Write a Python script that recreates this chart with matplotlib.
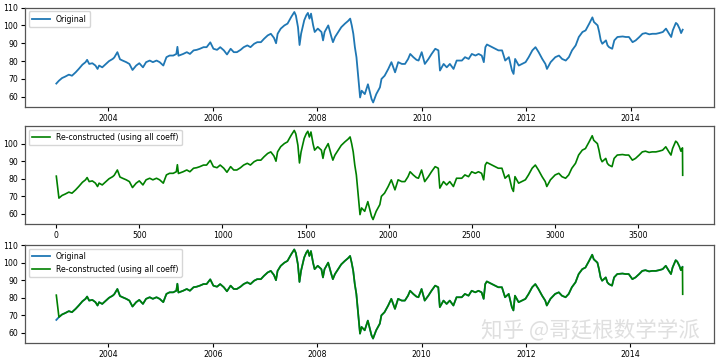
import numpy as np
import pandas as pd
import matplotlib
matplotlib.use("Agg")
import matplotlib.pyplot as plt

# sample times (decimal years) and values
years = [2003.00, 2003.05, 2003.11, 2003.17, 2003.24, 2003.30, 2003.37, 2003.43, 2003.50, 2003.56,
         2003.59, 2003.63, 2003.69, 2003.75, 2003.79, 2003.82, 2003.88, 2003.95, 2004.01, 2004.08,
         2004.11, 2004.17, 2004.22, 2004.27, 2004.34, 2004.40, 2004.46, 2004.53, 2004.59, 2004.66,
         2004.72, 2004.79, 2004.85, 2004.92, 2004.98, 2005.05, 2005.11, 2005.17, 2005.24, 2005.30,
         2005.32, 2005.34, 2005.43, 2005.50, 2005.56, 2005.63, 2005.69, 2005.75, 2005.82, 2005.88,
         2005.95, 2006.01, 2006.08, 2006.14, 2006.21, 2006.27, 2006.34, 2006.40, 2006.46, 2006.53,
         2006.59, 2006.66, 2006.72, 2006.79, 2006.85, 2006.92, 2006.98, 2007.05, 2007.11, 2007.17,
         2007.21, 2007.24, 2007.30, 2007.37, 2007.43, 2007.50, 2007.56, 2007.59, 2007.63, 2007.66,
         2007.69, 2007.75, 2007.79, 2007.82, 2007.85, 2007.88, 2007.92, 2007.95, 2008.01, 2008.08,
         2008.11, 2008.14, 2008.21, 2008.27, 2008.30, 2008.34, 2008.40, 2008.46, 2008.53, 2008.59,
         2008.63, 2008.66, 2008.69, 2008.72, 2008.75, 2008.79, 2008.82, 2008.85, 2008.91, 2008.97,
         2009.01, 2009.04, 2009.07, 2009.13, 2009.20, 2009.23, 2009.29, 2009.36, 2009.42, 2009.49,
         2009.55, 2009.62, 2009.68, 2009.74, 2009.78, 2009.84, 2009.90, 2009.94, 2010.00, 2010.06,
         2010.13, 2010.19, 2010.26, 2010.32, 2010.35, 2010.42, 2010.48, 2010.54, 2010.61, 2010.67,
         2010.77, 2010.83, 2010.90, 2010.96, 2011.03, 2011.09, 2011.15, 2011.19, 2011.22, 2011.25,
         2011.35, 2011.41, 2011.47, 2011.54, 2011.60, 2011.67, 2011.73, 2011.76, 2011.79, 2011.86,
         2011.92, 2011.99, 2012.05, 2012.12, 2012.18, 2012.24, 2012.31, 2012.37, 2012.40, 2012.47,
         2012.56, 2012.63, 2012.69, 2012.76, 2012.82, 2012.88, 2012.95, 2013.01, 2013.08, 2013.14,
         2013.21, 2013.27, 2013.30, 2013.37, 2013.40, 2013.43, 2013.46, 2013.53, 2013.56, 2013.59,
         2013.65, 2013.69, 2013.75, 2013.85, 2013.91, 2013.97, 2014.04, 2014.10, 2014.17, 2014.23,
         2014.29, 2014.36, 2014.42, 2014.49, 2014.55, 2014.62, 2014.68, 2014.74, 2014.78, 2014.81,
         2014.87, 2014.90, 2014.94, 2014.97, 2015.00]

original = [67.4, 69.0, 70.5, 71.3, 72.4, 71.8, 73.7, 75.6, 78.0, 79.4,
            80.7, 78.4, 78.8, 77.5, 75.6, 77.5, 76.5, 78.4, 80.0, 81.2,
            82.0, 85.0, 81.0, 80.3, 79.4, 78.4, 75.0, 77.5, 78.8, 76.5,
            79.4, 80.3, 79.4, 80.3, 79.4, 77.5, 82.2, 83.1, 83.1, 84.0,
            88.0, 83.0, 84.0, 85.0, 84.0, 86.0, 86.3, 86.9, 87.8, 87.8,
            90.5, 86.9, 86.3, 87.8, 86.0, 83.7, 86.9, 85.0, 85.0, 86.3,
            87.8, 88.8, 87.8, 89.7, 90.6, 90.6, 92.5, 94.4, 95.3, 93.0,
            90.0, 95.3, 98.2, 100.0, 101.0, 104.7, 107.5, 105.5, 99.0, 89.0,
            95.3, 102.9, 105.7, 107.0, 103.8, 106.6, 100.0, 96.3, 98.2, 96.3,
            91.6, 96.3, 100.0, 93.5, 90.6, 93.5, 96.3, 99.0, 101.0, 102.5,
            103.8, 100.0, 95.3, 87.8, 82.2, 69.0, 59.6, 63.4, 61.5, 67.0,
            62.4, 58.7, 56.8, 61.5, 65.3, 70.0, 71.8, 75.6, 79.4, 73.7,
            79.4, 78.4, 78.4, 81.2, 84.0, 82.2, 80.7, 80.3, 85.0, 78.4,
            81.2, 84.0, 86.9, 86.0, 74.7, 78.4, 76.5, 78.4, 75.6, 80.3,
            80.3, 82.2, 81.2, 84.0, 83.1, 84.0, 83.1, 79.4, 87.8, 89.3,
            87.8, 86.9, 86.0, 86.0, 80.3, 82.2, 74.7, 72.8, 81.2, 77.5,
            78.4, 79.4, 82.2, 86.0, 87.8, 85.0, 81.2, 78.4, 75.6, 79.4,
            82.2, 83.1, 81.2, 80.3, 82.2, 86.0, 88.8, 93.5, 96.3, 97.2,
            101.0, 104.5, 101.9, 100.0, 96.3, 91.6, 89.7, 91.6, 88.8, 87.8,
            86.9, 91.6, 93.5, 93.8, 93.5, 93.5, 90.6, 91.6, 93.5, 95.3,
            95.7, 95.0, 95.3, 95.3, 95.7, 96.3, 98.2, 95.3, 93.5, 97.2,
            101.4, 100.6, 98.2, 95.7, 97.6]

n_points = 3770           # length of the series (index axis of middle panel)
recon_first = 81.5        # edge artefact at the start of the reconstruction
recon_last = 82.0         # edge artefact at the end of the reconstruction

recon = [recon_first] + original[1:] + [recon_last]
recon_years = years + [years[-1] + 0.004]

def to_dates(ys):
    return [pd.Timestamp(2003, 1, 1) + pd.Timedelta(days=(y - 2003.0) * 365.25) for y in ys]

dates = to_dates(years)
recon_dates = to_dates(recon_years)
recon_index = [(y - 2003.0) / 12.0 * (n_points - 1) for y in recon_years]

plt.rcParams['font.size'] = 5.6
plt.rcParams['xtick.major.size'] = 2.8
plt.rcParams['ytick.major.size'] = 2.8
plt.rcParams['xtick.major.pad'] = 2.5
plt.rcParams['ytick.major.pad'] = 2.0
plt.rcParams['legend.handlelength'] = 2.3
fig = plt.figure(figsize=(7.2, 3.62), dpi=100)
L, W = 25 / 720, (714 - 25) / 720
ax1 = fig.add_axes([L, 1 - 107 / 362, W, 99.5 / 362])
ax2 = fig.add_axes([L, 1 - 224 / 362, W, 98 / 362])
ax3 = fig.add_axes([L, 1 - 343 / 362, W, 98 / 362])

ax1.plot(dates, original, color='C0', lw=1.3, label='Original')
ax1.legend(loc='upper left')

ax2.plot(recon_index, recon, color='green', lw=1.2, label='Re-constructed (using all coeff)')
ax2.legend(loc='upper left')

ax3.plot(dates, original, color='C0', lw=1.3, label='Original')
ax3.plot(recon_dates, recon, color='green', lw=1.2, label='Re-constructed (using all coeff)')
ax3.legend(loc='upper left')

for ax in (ax1, ax3):
    ax.set_yticks([60, 70, 80, 90, 100, 110])
ax2.set_yticks([60, 70, 80, 90, 100])
for ax in (ax1, ax2, ax3):
    for s in ax.spines.values():
        s.set_color('#555555')
        s.set_linewidth(0.9)

fig.text(0.972, 0.058, '知乎 @哥廷根数学学派', ha='right', va='bottom', fontsize=15.5,
         color='#d8d8d8', alpha=0.8, family=['Noto Sans CJK SC', 'DejaVu Sans'])

fig.savefig('out.png', dpi=100)
